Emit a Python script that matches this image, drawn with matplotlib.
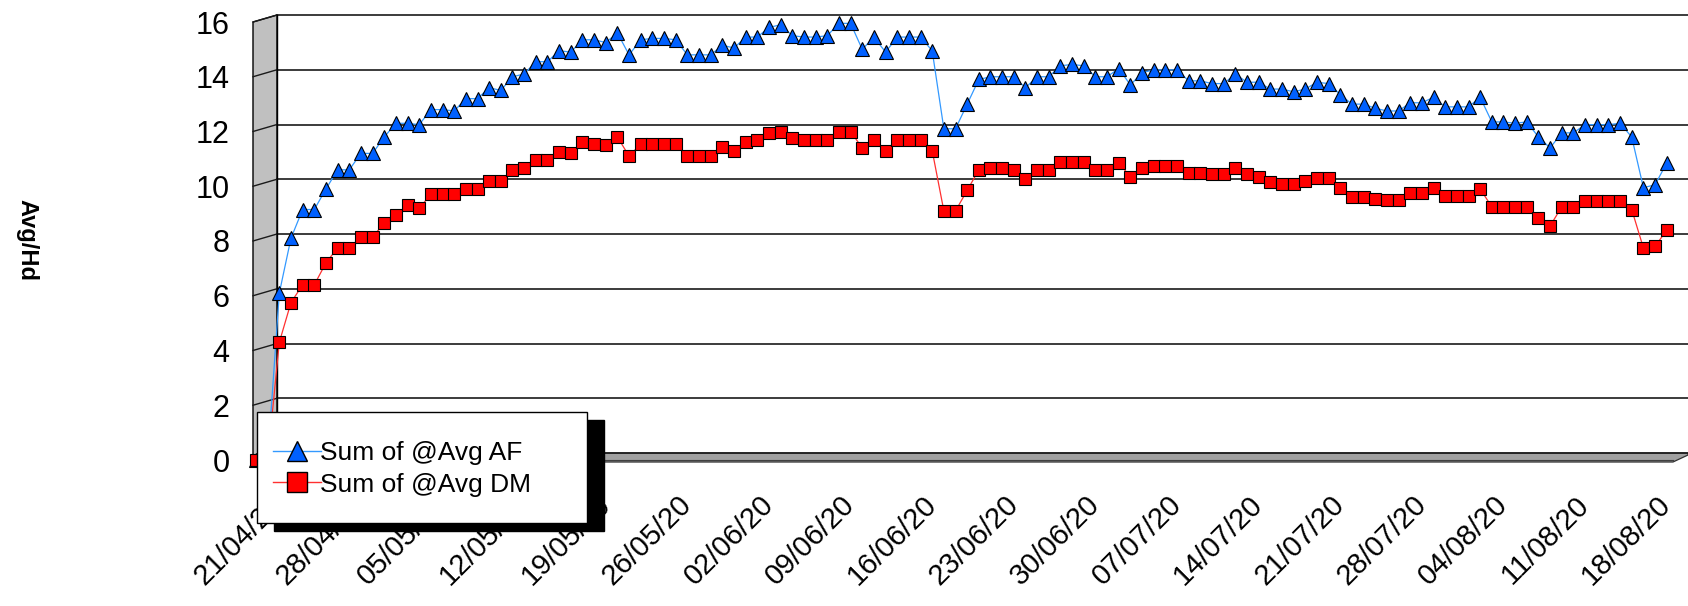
import matplotlib
matplotlib.use("Agg")
import matplotlib.pyplot as plt
import matplotlib.dates as mdates
from matplotlib.patches import Polygon, Rectangle
from matplotlib.lines import Line2D
import pandas as pd

plt.rcParams['font.family'] = ['Liberation Sans', 'DejaVu Sans']

# daily averages, 19/04/20 .. 18/08/20 (one row per week, Sunday first)
dates = pd.date_range('2020-04-19', '2020-08-18', freq='D')

avg_af = [
    0, 0, 6.1, 8.1, 9.15, 9.15, 9.9,
    10.6, 10.6, 11.2, 11.2, 11.8, 12.3, 12.3,
    12.25, 12.8, 12.8, 12.75, 13.2, 13.2, 13.6,
    13.5, 14.0, 14.1, 14.55, 14.55, 14.95, 14.9,
    15.35, 15.35, 15.25, 15.6, 14.8, 15.35, 15.4,
    15.4, 15.35, 14.8, 14.8, 14.8, 15.15, 15.05,
    15.45, 15.45, 15.8, 15.9, 15.5, 15.45, 15.45,
    15.5, 15.95, 15.95, 15.0, 15.45, 14.9, 15.45,
    15.45, 15.45, 14.95, 12.1, 12.1, 13.0, 13.9,
    14.0, 14.0, 14.0, 13.6, 14.0, 14.0, 14.4,
    14.45, 14.4, 14.0, 14.0, 14.3, 13.7, 14.15,
    14.25, 14.25, 14.25, 13.85, 13.85, 13.75, 13.75,
    14.1, 13.8, 13.8, 13.55, 13.55, 13.45, 13.55,
    13.8, 13.75, 13.35, 13.0, 13.0, 12.85, 12.75,
    12.75, 13.05, 13.05, 13.25, 12.9, 12.9, 12.9,
    13.25, 12.35, 12.35, 12.3, 12.35, 11.8, 11.4,
    11.95, 11.95, 12.25, 12.25, 12.25, 12.3, 11.8,
    9.95, 10.05, 10.85,
]

avg_dm = [
    0, 0, 4.3, 5.75, 6.4, 6.4, 7.2,
    7.75, 7.75, 8.15, 8.15, 8.65, 8.95, 9.3,
    9.2, 9.7, 9.7, 9.7, 9.9, 9.9, 10.2,
    10.2, 10.6, 10.65, 10.95, 10.95, 11.25, 11.2,
    11.6, 11.55, 11.5, 11.8, 11.1, 11.55, 11.55,
    11.55, 11.55, 11.1, 11.1, 11.1, 11.45, 11.3,
    11.6, 11.7, 11.95, 12.0, 11.75, 11.7, 11.7,
    11.7, 12.0, 12.0, 11.4, 11.7, 11.3, 11.7,
    11.7, 11.7, 11.3, 9.1, 9.1, 9.85, 10.6,
    10.65, 10.65, 10.6, 10.25, 10.6, 10.6, 10.9,
    10.9, 10.9, 10.6, 10.6, 10.85, 10.35, 10.65,
    10.75, 10.75, 10.75, 10.5, 10.5, 10.45, 10.45,
    10.65, 10.45, 10.35, 10.15, 10.1, 10.1, 10.2,
    10.3, 10.3, 9.95, 9.6, 9.6, 9.55, 9.5,
    9.5, 9.75, 9.75, 9.95, 9.65, 9.65, 9.65,
    9.9, 9.25, 9.25, 9.25, 9.25, 8.85, 8.55,
    9.25, 9.25, 9.45, 9.45, 9.45, 9.45, 9.15,
    7.75, 7.8, 8.4,
]

y_ticks = [0, 2, 4, 6, 8, 10, 12, 14, 16]
tick_dates = dates[2::7]
series_names = ['Sum of @Avg AF', 'Sum of @Avg DM']

W, H = 1688, 606
fig = plt.figure(figsize=(W / 100, H / 100), dpi=100)

# front plane (where the series sit) and back wall, in pixels
FX0, FX1, FY0, FY16 = 253, 1673, 460, 22
DX, DY = 24, -7


def fy(v):
    return FY0 - (FY0 - FY16) * v / 16


def frac(x, y):
    return x / W, 1 - y / H


# walls, floor and gridlines
bg = fig.add_axes([0, 0, 1, 1], zorder=0)
bg.set_xlim(0, W)
bg.set_ylim(H, 0)
bg.axis('off')

bg.add_patch(Polygon([(FX0, fy(16)), (FX0 + DX, fy(16) + DY),
                      (FX0 + DX, FY0 + DY), (FX0, FY0)],
                     closed=True, facecolor='#c0c0c0', edgecolor='black', lw=1.0))
bg.add_patch(Polygon([(FX0, FY0), (FX0 + DX, FY0 + DY), (W, FY0 + DY),
                      (W, FY0 + DY + 2), (FX1, FY0 + 2), (FX0, FY0 + 2)],
                     closed=True, facecolor='#a0a0a0', edgecolor='#303030', lw=0.9))
bg.plot([FX0 + DX, FX1], [FY0, FY0], color='#404040', lw=0.8)
for v in y_ticks:
    bg.plot([FX0 + DX, W], [fy(v) + DY, fy(v) + DY], color='#1a1a1a', lw=1.2)
    bg.plot([FX0, FX0 + DX], [fy(v), fy(v) + DY], color='#1a1a1a', lw=1.0)
bg.plot([FX0 + DX, FX0 + DX], [fy(16) + DY, FY0 + DY], color='black', lw=1.0)

# data axes on the front plane
x0, y0 = frac(FX0, FY0)
x1, y1 = frac(FX1, FY16)
ax = fig.add_axes([x0, y0, x1 - x0, y1 - y0], zorder=1)
ax.patch.set_alpha(0)
for s in ax.spines.values():
    s.set_visible(False)

ax.plot(dates, avg_af, color='#3399ff', lw=0.9, marker='^', markersize=10,
        markerfacecolor='#0060ff', markeredgecolor='black', markeredgewidth=0.8,
        clip_on=False)
ax.plot(dates, avg_dm, color='#ff3030', lw=0.9, marker='s', markersize=9.3,
        markerfacecolor='#ff0000', markeredgecolor='black', markeredgewidth=0.8,
        clip_on=False)

px_day = (1666.7 - 256) / (len(dates) - 1)
d0 = mdates.date2num(dates[0])
d1 = mdates.date2num(dates[-1])
ax.set_xlim(d0 - 3 / px_day, d1 + 6.3 / px_day)
ax.set_ylim(0, 16)
ax.set_yticks(y_ticks)
ax.set_xticks(tick_dates)
ax.xaxis.set_major_formatter(mdates.DateFormatter('%d/%m/%y'))
ax.tick_params(axis='y', length=0, pad=17, labelsize=22)
ax.tick_params(axis='x', length=0, pad=29, labelsize=21)
for lab in ax.get_xticklabels():
    lab.set_rotation(45)
    lab.set_ha('right')
    lab.set_va('center')
    lab.set_rotation_mode('anchor')

fig.text(27 / W, 1 - 240 / H, 'Avg/Hd', rotation=-90, ha='center', va='center',
         fontsize=17, fontweight='bold')

# legend box with a hard black shadow
lx0, ly0, lx1, ly1 = 257, 412, 587, 523
sx, sy = frac(lx0 + 17, ly1 + 8)
fig.patches.append(Rectangle((sx, sy), (lx1 - lx0) / W, (ly1 - ly0) / H,
                             transform=fig.transFigure, facecolor='black',
                             edgecolor='black', zorder=3))
fx, fyy = frac(lx0, ly1)
fig.patches.append(Rectangle((fx, fyy), (lx1 - lx0) / W, (ly1 - ly0) / H,
                             transform=fig.transFigure, facecolor='white',
                             edgecolor='black', lw=1.0, zorder=4))

handles = [
    Line2D([], [], color='#3399ff', lw=1.0, marker='^', markersize=15,
           markerfacecolor='#0060ff', markeredgecolor='black', markeredgewidth=1.0),
    Line2D([], [], color='#ff3030', lw=1.0, marker='s', markersize=15,
           markerfacecolor='#ff0000', markeredgecolor='black', markeredgewidth=1.0),
]
leg = fig.legend(handles, series_names, loc='center left',
                 bbox_to_anchor=frac(273, 469), frameon=False, fontsize=19,
                 borderpad=0, borderaxespad=0, handlelength=1.8,
                 handletextpad=0.0, labelspacing=0.28)
leg.set_zorder(5)

fig.savefig('out.png', dpi=100)
